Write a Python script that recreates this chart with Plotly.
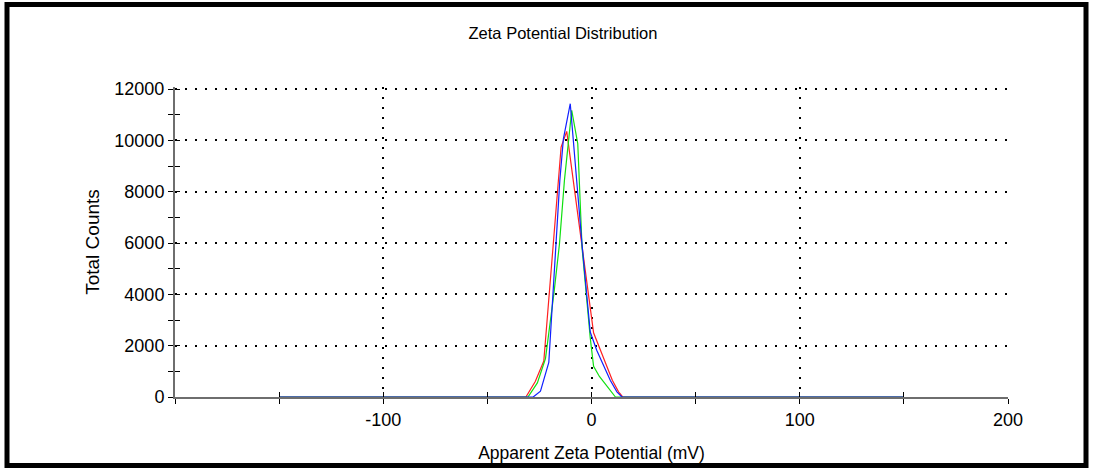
import plotly.graph_objects as go

# ---- data ----
red_x = [-150, -31.5, -27, -22.9, -14.6, -11.9, 1, 10, 13, 15, 150]
red_y = [0, 0, 600, 1400, 9740, 10350, 2500, 650, 200, 0, 0]

green_x = [-150, -30.5, -26, -22.1, -18.1, -15.4, -13, -9.5, -6.6, -4.5, -0.6, 1, 3.8, 9, 11.5, 150]
green_y = [0, 0, 550, 1500, 4000, 5950, 8440, 11170, 9870, 5780, 2300, 1200, 800, 230, 0, 0]

blue_x = [-150, -28, -24.5, -20.5, -15.2, -13.5, -10.2, -4.5, -0.6, 2.5, 9, 12.2, 14.6, 150]
blue_y = [0, 0, 230, 1350, 8450, 10060, 11430, 5900, 2530, 1820, 650, 200, 0, 0]

x_major = [-100, 0, 100, 200]
x_labels = ["-100", "0", "100", "200"]
y_major = [0, 2000, 4000, 6000, 8000, 10000, 12000]
y_labels = ["0", "2000", "4000", "6000", "8000", "10000", "12000"]

FONT = "Liberation Sans, Arial, sans-serif"

fig = go.Figure()
for xs, ys, col in [(red_x, red_y, "#ff2020"), (green_x, green_y, "#10e010"), (blue_x, blue_y, "#1020ff")]:
    fig.add_trace(go.Scatter(x=xs, y=ys, mode="lines", line=dict(color=col, width=1.2),
                             cliponaxis=False, showlegend=False, hoverinfo="skip"))
# invisible trace for the overlay axes (inside half of the crossing ticks)
fig.add_trace(go.Scatter(x=[None], y=[None], xaxis="x2", yaxis="y2", showlegend=False, hoverinfo="skip"))

W, H = 1093, 473
L, R, B = 175, 85, 76
YR = [0, 12080]
ph = 308 * YR[1] / 12000.0
T = H - B - ph
pw = W - L - R

fig.update_layout(
    width=W, height=H,
    margin=dict(l=L, r=R, t=T, b=B),
    paper_bgcolor="white", plot_bgcolor="white",
    font=dict(family=FONT, size=18, color="#000000"),
    title=dict(text="Zeta Potential Distribution", x=563 / W, xref="container", xanchor="center",
               y=1 - 33 / H, yref="container", yanchor="middle",
               font=dict(size=16.5, family=FONT, color="#000")),
    xaxis=dict(range=[-200, 200], tickmode="array", tickvals=x_major, ticktext=x_labels,
               ticks="outside", ticklen=5, tickwidth=1, tickcolor="#000",
               minor=dict(dtick=50, tick0=-200, ticks="outside", ticklen=5, tickcolor="#000", showgrid=False),
               showgrid=True, gridcolor="#000000", gridwidth=2, griddash="2px,8px",
               showline=True, linecolor="#6e6e6e", linewidth=2, zeroline=False,
               layer="below traces",
               title=dict(text="Apparent Zeta Potential (mV)", standoff=18, font=dict(size=17.5)),
               tickfont=dict(size=18)),
    yaxis=dict(range=YR, tickmode="array", tickvals=y_major, ticktext=y_labels,
               ticks="outside", ticklen=5, tickwidth=1, tickcolor="#000",
               minor=dict(dtick=1000, tick0=0, ticks="outside", ticklen=5, tickcolor="#000", showgrid=False),
               showgrid=True, gridcolor="#000000", gridwidth=2, griddash="2px,8px",
               showline=True, linecolor="#6e6e6e", linewidth=2, zeroline=False,
               layer="below traces",
               title=dict(text="Total Counts", standoff=10, font=dict(size=19)),
               tickfont=dict(size=18)),
    xaxis2=dict(overlaying="x", anchor="y", range=[-200, 200], tickmode="array", tickvals=x_major,
                showticklabels=False, ticks="inside", ticklen=5, tickcolor="#000",
                minor=dict(dtick=50, tick0=-200, ticks="inside", ticklen=5, tickcolor="#000"),
                showgrid=False, showline=False, zeroline=False),
    yaxis2=dict(overlaying="y", anchor="x", range=YR, tickmode="array", tickvals=y_major,
                showticklabels=False, ticks="inside", ticklen=5, tickcolor="#000",
                minor=dict(dtick=1000, tick0=0, ticks="inside", ticklen=5, tickcolor="#000"),
                showgrid=False, showline=False, zeroline=False),
)

# outer black frame
fx0, fx1 = 7, 1086
fy0, fy1 = 4.5, 465.5
fig.add_shape(type="rect", xref="paper", yref="paper",
              x0=(fx0 - L) / pw, x1=(fx1 - L) / pw,
              y0=(H - B - fy1) / ph, y1=(H - B - fy0) / ph,
              line=dict(color="black", width=5), fillcolor="rgba(0,0,0,0)", layer="above")

fig.write_html("out.html")
